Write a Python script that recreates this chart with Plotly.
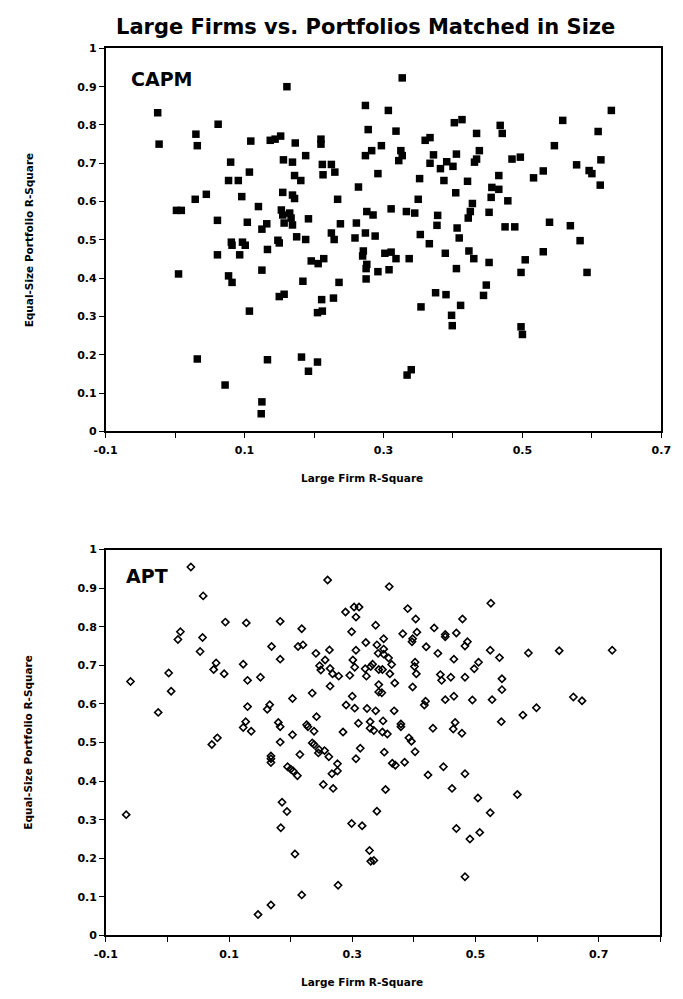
import plotly.graph_objects as go

# ---------------- data: CAPM (filled squares) ----------------
capm_x = [-0.025, -0.023, 0.030, 0.032, 0.062, 0.080, 0.077, 0.091, 0.107, 0.109,
          0.137, 0.144, 0.152, 0.161, 0.173, 0.188, 0.210, 0.210, 0.156, 0.169,
          0.172, 0.181, 0.212, 0.225, 0.213, 0.230, 0.274, 0.278, 0.274, 0.283,
          0.264, 0.234, 0.155, 0.169, 0.172, 0.096, 0.029, 0.045, 0.002, 0.009,
          0.120, 0.153, 0.165, 0.155, 0.167, 0.061, 0.104, 0.132, 0.125, 0.157,
          0.169, 0.192, 0.238, 0.261, 0.276, 0.285, 0.274, 0.288, 0.225, 0.259,
          0.175, 0.188, 0.148, 0.081, 0.097, 0.327, 0.307, 0.628, 0.558, 0.402,
          0.413, 0.468, 0.471, 0.318, 0.434, 0.609, 0.360, 0.367, 0.297, 0.325,
          0.327, 0.322, 0.546, 0.372, 0.367, 0.405, 0.438, 0.434, 0.431, 0.485,
          0.497, 0.391, 0.400, 0.382, 0.578, 0.613, 0.596, 0.600, 0.530, 0.516,
          0.292, 0.466, 0.352, 0.387, 0.421, 0.612, 0.456, 0.466, 0.404, 0.350,
          0.455, 0.479, 0.428, 0.425, 0.422, 0.311, 0.333, 0.345, 0.378, 0.377,
          0.452, 0.539, 0.569, 0.475, 0.489, 0.406, 0.409, 0.353, 0.583, 0.366,
          0.302, 0.311, 0.318, 0.337, 0.389, 0.423, 0.430, 0.452, 0.292, 0.308,
          0.405, 0.498, 0.504, 0.530, 0.593, 0.448, 0.444, 0.375, 0.390, 0.411,
          0.354, 0.398, 0.399, 0.498, 0.500, 0.334, 0.340, 0.061, 0.082, 0.101,
          0.093, 0.133, 0.150, 0.229, 0.271, 0.270, 0.276, 0.275, 0.005, 0.077,
          0.082, 0.125, 0.196, 0.206, 0.214, 0.184, 0.236, 0.275, 0.150, 0.157,
          0.211, 0.228, 0.107, 0.205, 0.212, 0.032, 0.133, 0.182, 0.205, 0.192,
          0.072, 0.125, 0.124]
capm_y = [0.832, 0.750, 0.776, 0.746, 0.802, 0.703, 0.655, 0.655, 0.677, 0.758,
          0.760, 0.763, 0.771, 0.900, 0.753, 0.720, 0.763, 0.750, 0.709, 0.703,
          0.668, 0.655, 0.697, 0.697, 0.670, 0.677, 0.851, 0.788, 0.720, 0.733,
          0.638, 0.606, 0.624, 0.617, 0.608, 0.613, 0.606, 0.619, 0.577, 0.577,
          0.587, 0.578, 0.570, 0.565, 0.557, 0.551, 0.546, 0.542, 0.528, 0.544,
          0.539, 0.555, 0.542, 0.544, 0.574, 0.565, 0.518, 0.510, 0.518, 0.505,
          0.508, 0.501, 0.499, 0.494, 0.494, 0.923, 0.838, 0.838, 0.812, 0.806,
          0.814, 0.799, 0.778, 0.784, 0.778, 0.783, 0.760, 0.767, 0.746, 0.733,
          0.720, 0.707, 0.746, 0.722, 0.700, 0.724, 0.733, 0.711, 0.703, 0.711,
          0.716, 0.704, 0.692, 0.686, 0.696, 0.709, 0.681, 0.673, 0.680, 0.662,
          0.673, 0.668, 0.660, 0.655, 0.653, 0.643, 0.637, 0.632, 0.623, 0.606,
          0.611, 0.602, 0.595, 0.574, 0.557, 0.581, 0.574, 0.570, 0.564, 0.538,
          0.572, 0.546, 0.537, 0.534, 0.534, 0.531, 0.505, 0.514, 0.498, 0.490,
          0.465, 0.468, 0.451, 0.451, 0.465, 0.471, 0.451, 0.441, 0.417, 0.422,
          0.425, 0.415, 0.448, 0.469, 0.415, 0.382, 0.355, 0.362, 0.357, 0.329,
          0.325, 0.303, 0.276, 0.273, 0.253, 0.147, 0.161, 0.461, 0.486, 0.486,
          0.461, 0.475, 0.492, 0.501, 0.471, 0.458, 0.436, 0.425, 0.411, 0.406,
          0.389, 0.421, 0.445, 0.438, 0.451, 0.392, 0.389, 0.398, 0.352, 0.358,
          0.344, 0.348, 0.314, 0.310, 0.314, 0.189, 0.187, 0.194, 0.181, 0.157,
          0.121, 0.077, 0.046]

# ---------------- data: APT (open diamonds) ----------------
apt_x = [0.038, 0.260, 0.058, 0.289, 0.303, 0.311, 0.306, 0.094, 0.128, 0.183,
         0.218, 0.338, 0.021, 0.017, 0.057, 0.299, 0.053, 0.169, 0.212, 0.220,
         0.183, 0.241, 0.263, 0.306, 0.322, 0.340, 0.342, 0.079, 0.075, 0.092,
         0.123, 0.002, -0.060, 0.006, 0.130, 0.151, 0.256, 0.247, 0.249, 0.264,
         0.268, 0.278, 0.264, 0.296, 0.301, 0.304, 0.321, 0.330, 0.333, 0.323,
         0.343, 0.343, 0.343, -0.015, 0.130, 0.166, 0.162, 0.203, 0.235, 0.242,
         0.300, 0.290, 0.304, 0.324, 0.338, 0.127, 0.180, 0.226, 0.310, 0.329,
         0.360, 0.525, 0.390, 0.403, 0.479, 0.382, 0.405, 0.433, 0.451, 0.451,
         0.469, 0.351, 0.398, 0.397, 0.487, 0.483, 0.420, 0.351, 0.351, 0.359,
         0.439, 0.524, 0.586, 0.636, 0.722, 0.465, 0.539, 0.364, 0.349, 0.361,
         0.402, 0.401, 0.404, 0.505, 0.498, 0.443, 0.445, 0.460, 0.483, 0.543,
         0.543, 0.348, 0.369, 0.398, 0.419, 0.417, 0.451, 0.465, 0.495, 0.527,
         0.659, 0.673, 0.577, 0.599, 0.368, 0.350, 0.379, 0.467, 0.542, 0.123,
         0.136, 0.183, 0.203, 0.228, 0.238, 0.285, 0.329, 0.335, 0.072, 0.081,
         0.183, 0.235, 0.238, 0.246, 0.245, 0.255, 0.262, 0.313, 0.306, 0.168,
         0.168, 0.168, 0.215, 0.195, 0.200, 0.204, 0.211, 0.276, 0.276, 0.267,
         0.253, 0.269, -0.067, 0.186, 0.194, 0.184, 0.340, 0.299, 0.316, 0.207,
         0.328, 0.330, 0.335, 0.277, 0.218, 0.168, 0.147, 0.349, 0.357, 0.379,
         0.431, 0.464, 0.478, 0.392, 0.396, 0.352, 0.402, 0.365, 0.370, 0.385,
         0.448, 0.423, 0.483, 0.354, 0.462, 0.568, 0.504, 0.524, 0.469, 0.491,
         0.507, 0.483]
apt_y = [0.955, 0.921, 0.880, 0.838, 0.851, 0.851, 0.825, 0.812, 0.810, 0.814,
         0.795, 0.804, 0.787, 0.767, 0.772, 0.787, 0.736, 0.749, 0.749, 0.753,
         0.716, 0.731, 0.740, 0.739, 0.759, 0.753, 0.731, 0.706, 0.689, 0.678,
         0.703, 0.680, 0.658, 0.633, 0.661, 0.669, 0.714, 0.699, 0.688, 0.692,
         0.678, 0.672, 0.646, 0.674, 0.714, 0.695, 0.691, 0.697, 0.703, 0.672,
         0.689, 0.650, 0.631, 0.578, 0.593, 0.598, 0.586, 0.614, 0.628, 0.567,
         0.620, 0.597, 0.589, 0.588, 0.582, 0.554, 0.552, 0.546, 0.550, 0.554,
         0.904, 0.861, 0.847, 0.820, 0.820, 0.782, 0.786, 0.797, 0.780, 0.774,
         0.784, 0.769, 0.769, 0.761, 0.761, 0.750, 0.748, 0.742, 0.729, 0.719,
         0.731, 0.739, 0.732, 0.738, 0.739, 0.716, 0.720, 0.702, 0.689, 0.678,
         0.708, 0.697, 0.678, 0.708, 0.691, 0.676, 0.661, 0.669, 0.669, 0.665,
         0.637, 0.629, 0.654, 0.644, 0.607, 0.597, 0.611, 0.620, 0.610, 0.611,
         0.618, 0.608, 0.571, 0.590, 0.582, 0.556, 0.548, 0.552, 0.554, 0.539,
         0.529, 0.541, 0.520, 0.541, 0.529, 0.527, 0.537, 0.531, 0.495, 0.512,
         0.501, 0.499, 0.495, 0.482, 0.473, 0.479, 0.463, 0.485, 0.458, 0.465,
         0.458, 0.448, 0.469, 0.437, 0.431, 0.426, 0.414, 0.445, 0.426, 0.419,
         0.391, 0.381, 0.313, 0.345, 0.321, 0.279, 0.322, 0.290, 0.284, 0.211,
         0.220, 0.192, 0.194, 0.130, 0.105, 0.079, 0.054, 0.527, 0.522, 0.541,
         0.537, 0.535, 0.524, 0.512, 0.503, 0.475, 0.476, 0.446, 0.441, 0.449,
         0.437, 0.416, 0.419, 0.378, 0.381, 0.365, 0.356, 0.318, 0.277, 0.250,
         0.267, 0.152]

# ---------------- tick labels ----------------
y_tickvals = [i / 10 for i in range(11)]
y_ticktext = ["0", "0.1", "0.2", "0.3", "0.4", "0.5", "0.6", "0.7", "0.8", "0.9", "1"]
capm_xtickvals = [-0.1, 0.0, 0.1, 0.2, 0.3, 0.4, 0.5, 0.6, 0.7]
capm_xticktext = ["-0.1", "", "0.1", "", "0.3", "", "0.5", "", "0.7"]
apt_xtickvals = [-0.1, 0.0, 0.1, 0.2, 0.3, 0.4, 0.5, 0.6, 0.7, 0.8]
apt_xticktext = ["-0.1", "", "0.1", "", "0.3", "", "0.5", "", "0.7", ""]

TITLE = "Large Firms vs. Portfolios Matched in Size"
XTITLE = "Large Firm R-Square"
YTITLE = "Equal-Size Portfolio R-Square"

FONT = "DejaVu Sans"
BOLD = dict(family=FONT, size=11, color="black", weight="bold")

fig = go.Figure()
fig.add_trace(go.Scatter(
    x=capm_x, y=capm_y, mode="markers", xaxis="x", yaxis="y",
    marker=dict(symbol="square", size=7.5, color="black", line=dict(width=0)),
    showlegend=False, cliponaxis=False))
fig.add_trace(go.Scatter(
    x=apt_x, y=apt_y, mode="markers", xaxis="x2", yaxis="y2",
    marker=dict(symbol="diamond-open", size=5.5, color="black",
                line=dict(width=1.6, color="black")),
    showlegend=False, cliponaxis=False))

axis_common = dict(showline=True, linecolor="black", linewidth=1.5, mirror=True,
                   ticks="outside", ticklen=5, tickwidth=1.2, tickcolor="black",
                   showgrid=False, zeroline=False, tickfont=BOLD)

fig.update_layout(
    width=683, height=999,
    margin=dict(l=0, r=0, t=0, b=0),
    paper_bgcolor="white", plot_bgcolor="white",
    xaxis=dict(domain=[0.1416, 0.9824], range=[-0.1, 0.7], anchor="y",
               tickvals=capm_xtickvals, ticktext=capm_xticktext,
               ticklabelstandoff=3, **axis_common),
    yaxis=dict(domain=[0.5686, 0.9570], range=[0, 1], anchor="x",
               tickvals=y_tickvals, ticktext=y_ticktext, **axis_common),
    xaxis2=dict(domain=[0.1420, 0.9807], range=[-0.1, 0.8], anchor="y2",
                tickvals=apt_xtickvals, ticktext=apt_xticktext,
                ticklabelstandoff=3, **axis_common),
    yaxis2=dict(domain=[0.0574, 0.4487], range=[0, 1], anchor="x2",
                tickvals=y_tickvals, ticktext=y_ticktext, **axis_common),
)

ann = []
ann.append(dict(text=TITLE, x=365 / 683, y=1 - 21 / 999, xref="paper", yref="paper",
                xanchor="center", yanchor="middle", showarrow=False,
                font=dict(family=FONT, size=21, color="black", weight="bold")))
ann.append(dict(text="CAPM", x=154 / 683, y=1 - 74 / 999, xref="paper", yref="paper",
                xanchor="center", yanchor="middle", showarrow=False,
                font=dict(family=FONT, size=19, color="black", weight="bold")))
ann.append(dict(text="APT", x=140 / 683, y=1 - 578 / 999, xref="paper", yref="paper",
                xanchor="center", yanchor="middle", showarrow=False,
                font=dict(family=FONT, size=19, color="black", weight="bold")))
for yc in (1 - 237 / 999, 1 - 746 / 999):
    ann.append(dict(text=YTITLE, x=17 / 683, y=yc, xref="paper", yref="paper",
                    xanchor="center", yanchor="middle", textangle=-90, showarrow=False,
                    font=dict(family=FONT, size=10.5, color="black", weight="bold")))
for yc in (1 - 478 / 999, 1 - 989 / 999):
    ann.append(dict(text=XTITLE, x=362 / 683, y=yc, xref="paper", yref="paper",
                    xanchor="center", yanchor="middle", showarrow=False,
                    font=dict(family=FONT, size=10.5, color="black", weight="bold")))
fig.update_layout(annotations=ann)

fig.write_html("out.html")
